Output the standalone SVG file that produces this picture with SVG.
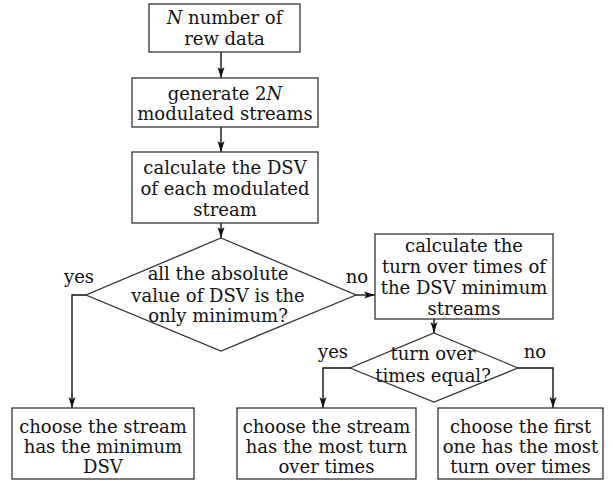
<svg xmlns="http://www.w3.org/2000/svg" width="613" height="481" viewBox="0 0 613 481">
<style>
.bg{fill:#ffffff}
.box{fill:#ffffff;stroke:#333;stroke-width:1.3}
.ln{fill:none;stroke:#111;stroke-width:1.4}
text{font-family:"DejaVu Serif","Liberation Serif",serif;font-size:18px;fill:#111;text-anchor:middle}
.it{font-style:italic}
</style>
<defs>
<marker id="ah" markerUnits="userSpaceOnUse" markerWidth="12" markerHeight="8" refX="11" refY="4" orient="auto">
<path d="M0,0.5 L11,4 L0,7.5 L2.5,4 Z" fill="#111"/>
</marker>
</defs>
<rect class="bg" x="0" y="0" width="613" height="481"/>
<g id="connectors">
<line class="ln" x1="221" y1="52" x2="221" y2="78" marker-end="url(#ah)"/>
<line class="ln" x1="221" y1="127" x2="221" y2="152" marker-end="url(#ah)"/>
<line class="ln" x1="221" y1="223" x2="221" y2="238" marker-end="url(#ah)"/>
<polyline class="ln" points="86,295 72,295 72,408" marker-end="url(#ah)"/>
<line class="ln" x1="356" y1="295" x2="375" y2="295" marker-end="url(#ah)"/>
<line class="ln" x1="434" y1="319" x2="434" y2="333" marker-end="url(#ah)"/>
<polyline class="ln" points="350,368 323,368 323,408" marker-end="url(#ah)"/>
<polyline class="ln" points="518,368 553,368 553,408" marker-end="url(#ah)"/>
<text x="79" y="283">yes</text>
<text x="357" y="283">no</text>
<text x="333" y="358">yes</text>
<text x="535" y="358">no</text>
</g>
<g id="n1">
<rect class="box" x="149" y="4" width="151" height="48"/>
<text x="224.5" y="24"><tspan class="it">N</tspan> number of</text>
<text x="224.5" y="45">rew data</text>
</g>
<g id="n2">
<rect class="box" x="132" y="78" width="186" height="49"/>
<text x="225" y="100">generate 2<tspan class="it">N</tspan></text>
<text x="225" y="120">modulated streams</text>
</g>
<g id="n3">
<rect class="box" x="132" y="152" width="186" height="71"/>
<text x="225" y="174">calculate the DSV</text>
<text x="225" y="195">of each modulated</text>
<text x="225" y="216">stream</text>
</g>
<g id="d1">
<polygon class="box" points="221,238 356,295 221,351 86,295"/>
<text x="218" y="280">all the absolute</text>
<text x="218" y="302">value of DSV is the</text>
<text x="218" y="322">only minimum?</text>
</g>
<g id="n4">
<rect class="box" x="375" y="234" width="178" height="85"/>
<text x="464" y="252">calculate the</text>
<text x="464" y="273">turn over times of</text>
<text x="464" y="294">the DSV minimum</text>
<text x="464" y="315">streams</text>
</g>
<g id="d2">
<polygon class="box" points="434,333 518,368 434,402 350,368"/>
<text x="433" y="360">turn over</text>
<text x="433" y="382">times equal?</text>
</g>
<g id="n5">
<rect class="box" x="12" y="408" width="182" height="71"/>
<text x="103" y="433">choose the stream</text>
<text x="103" y="453">has the minimum</text>
<text x="103" y="473">DSV</text>
</g>
<g id="n6">
<rect class="box" x="237" y="408" width="179" height="71"/>
<text x="326.5" y="433">choose the stream</text>
<text x="326.5" y="453">has the most turn</text>
<text x="326.5" y="473">over times</text>
</g>
<g id="n7">
<rect class="box" x="438" y="408" width="165" height="71"/>
<text x="520.5" y="433">choose the first</text>
<text x="520.5" y="453">one has the most</text>
<text x="520.5" y="473">turn over times</text>
</g>
</svg>
